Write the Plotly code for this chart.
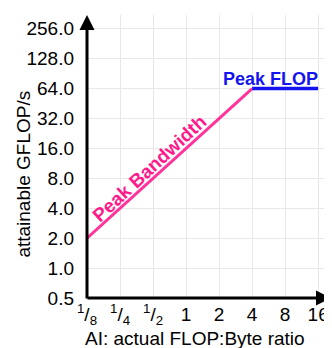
import math
import plotly.graph_objects as go

# Data
ai_bandwidth = [0.125, 4]
gflops_bandwidth = [2, 64]
ai_peak = [4, 16]
gflops_peak = [64, 64]

x_tickvals = [0.125, 0.25, 0.5, 1, 2, 4, 8, 16]
x_ticktext = ["<sup>1</sup>/<sub>8</sub>", "<sup>1</sup>/<sub>4</sub>", "<sup>1</sup>/<sub>2</sub>",
              "1", "2", "4", "8", "16"]
y_tickvals = [0.5, 1, 2, 4, 8, 16, 32, 64, 128, 256]
y_ticktext = ["0.5", "1.0", "2.0", "4.0", "8.0", "16.0", "32.0", "64.0", "128.0", "256.0"]
x_title = "AI: actual FLOP:Byte ratio"
y_title = "attainable GFLOP/s"

PINK = "#ff3399"
PINK_TXT = "#ff1a8c"
BLUE = "#1414f0"
FONT = "Liberation Sans, Arial, sans-serif"

fig = go.Figure()
fig.add_trace(go.Scatter(x=ai_bandwidth, y=gflops_bandwidth, mode="lines",
                         line=dict(color=PINK, width=3), showlegend=False, hoverinfo="skip"))
fig.add_trace(go.Scatter(x=ai_peak, y=gflops_peak, mode="lines",
                         line=dict(color=BLUE, width=3.5), showlegend=False, hoverinfo="skip"))

# text labels
lx0, lx1 = math.log2(ai_bandwidth[0]), math.log2(ai_bandwidth[1])
ly0, ly1 = math.log2(gflops_bandwidth[0]), math.log2(gflops_bandwidth[1])
mx = 2 ** (lx0 + 0.42 * (lx1 - lx0))
my = 2 ** (ly0 + 0.42 * (ly1 - ly0))
fig.add_annotation(x=math.log10(mx), y=math.log10(my), text="<b>Peak Bandwidth</b>",
                   showarrow=False, textangle=-42.8, xshift=-7, yshift=7,
                   font=dict(color=PINK_TXT, size=19, family=FONT))
fig.add_annotation(x=math.log10(ai_peak[1]), y=math.log10(gflops_peak[0]),
                   text="<b>Peak FLOP</b>", showarrow=False, yanchor="bottom", xanchor="right",
                   xshift=2, yshift=-2,
                   font=dict(color=BLUE, size=18, family=FONT))

# axis titles
fig.add_annotation(xref="paper", yref="paper", x=0.441, y=0, yshift=-40, yanchor="middle",
                   text=x_title, showarrow=False, font=dict(size=19, color="black", family=FONT))
fig.add_annotation(xref="paper", yref="paper", x=0, xshift=-63, y=0.436, xanchor="center",
                   textangle=-90, text=y_title, showarrow=False,
                   font=dict(size=19, color="black", family=FONT))

# axis arrows
fig.add_annotation(xref="paper", yref="paper", x=0, y=1, ax=0, ay=285, axref="pixel", ayref="pixel",
                   showarrow=True, arrowhead=2, arrowsize=1, arrowwidth=3, arrowcolor="black", text="")
fig.add_annotation(xref="paper", yref="paper", x=1, y=0, ax=-246, ay=0, axref="pixel", ayref="pixel",
                   showarrow=True, arrowhead=2, arrowsize=1, arrowwidth=3, arrowcolor="black", text="")

fig.update_xaxes(type="log", range=[math.log10(2 ** -3), math.log10(2 ** 4.42)], automargin=False,
                 tickvals=x_tickvals, ticktext=x_ticktext, showgrid=True, gridcolor="#e8e8e8",
                 gridwidth=1, showline=False, zeroline=False, ticks="", ticklabelstandoff=3,
                 tickfont=dict(size=19, color="black", family=FONT))
fig.update_yaxes(type="log", range=[math.log10(0.5), math.log10(2 ** 8.46)], automargin=False,
                 tickvals=y_tickvals, ticktext=y_ticktext, showgrid=True, gridcolor="#e8e8e8",
                 gridwidth=1, showline=False, zeroline=False, ticks="", ticklabelstandoff=12,
                 tickfont=dict(size=19, color="black", family=FONT))

# page has an 8px body margin, so the figure is offset by 8px
fig.update_layout(width=324, height=340, margin=dict(l=79, r=0, t=7, b=50),
                  plot_bgcolor="white", paper_bgcolor="white", showlegend=False)
fig.write_html("out.html")
